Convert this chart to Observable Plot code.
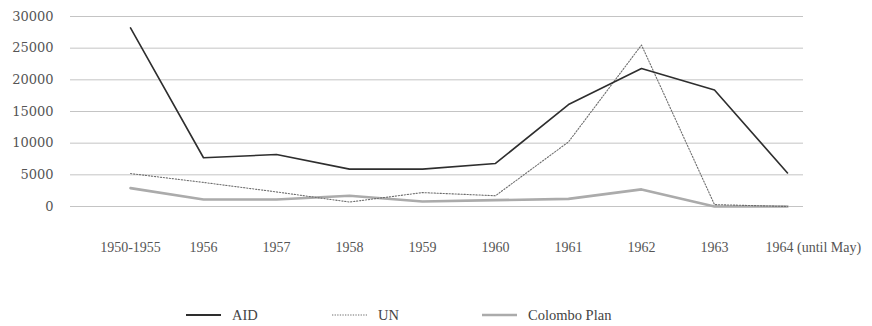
<!DOCTYPE html>
<html>
<head>
<meta charset="utf-8">
<script src="https://cdn.jsdelivr.net/npm/d3@7"></script>
<script src="https://cdn.jsdelivr.net/npm/@observablehq/plot@0.6"></script>
<style>
  html, body { margin: 0; padding: 0; background: #fff; }
  #chart svg { display: block; }
  #legend { position: relative; width: 872px; height: 51px; font-family: "Liberation Serif", serif; font-size: 14.5px; color: #444; }
  #legend .item { position: absolute; top: 31px; display: flex; align-items: center; height: 18px; }
  #legend svg { display: block; margin-right: 11px; }
</style>
</head>
<body>
<div id="chart"></div>
<div id="legend"></div>
<script>
const categories = ["1950-1955", "1956", "1957", "1958", "1959", "1960", "1961", "1962", "1963", "1964 (until May)"];
const aid = [28200, 7700, 8200, 5900, 5900, 6800, 16100, 21800, 18400, 5300];
const un = [5200, 3800, 2300, 700, 2200, 1700, 10200, 25500, 300, 0];
const colombo = [2900, 1100, 1100, 1700, 800, 1000, 1200, 2700, 0, 0];
const yTicks = [0, 5000, 10000, 15000, 20000, 25000, 30000];
const seriesNames = ["AID", "UN", "Colombo Plan"];

const toRows = (vals) => categories.map((c, i) => ({cat: c, value: vals[i]}));
const aidRows = toRows(aid), unRows = toRows(un), colRows = toRows(colombo);

const lastCat = categories[categories.length - 1];

const chart = Plot.plot({
  width: 872,
  height: 275,
  marginTop: 16,
  marginBottom: 69,
  marginLeft: 70,
  marginRight: 69,
  style: {fontFamily: "Liberation Serif, serif", background: "#fff"},
  x: {type: "point", domain: categories, range: [128, 788], padding: 0},
  y: {domain: [0, 30000], ticks: yTicks},
  marks: [
    Plot.ruleY(yTicks, {stroke: "#c4c4c4", strokeWidth: 1}),
    Plot.axisY({ticks: yTicks, tickSize: 0, tickPadding: 17, tickFormat: d => String(d), fontFamily: "DejaVu Serif, serif", fontSize: 13, fill: "#555", label: null}),
    Plot.axisX({ticks: categories.slice(0, -1), tickSize: 0, tickPadding: 36, fontSize: 14, fill: "#555", label: null}),
    Plot.axisX({ticks: [lastCat], tickSize: 0, tickPadding: 36, fontSize: 14, fill: "#555", textAnchor: "start", dx: -22, label: null}),
    Plot.line(colRows, {x: "cat", y: "value", stroke: "#ababab", strokeWidth: 2.6}),
    Plot.line(unRows, {x: "cat", y: "value", stroke: "#6e6e6e", strokeWidth: 1.1, strokeDasharray: "1.3,1.7"}),
    Plot.line(aidRows, {x: "cat", y: "value", stroke: "#2e2e2e", strokeWidth: 1.6})
  ]
});
document.getElementById("chart").appendChild(chart);

// legend
const legendStyles = [
  {stroke: "#2e2e2e", width: 1.8, dash: null, left: 186},
  {stroke: "#6e6e6e", width: 1.1, dash: "1.3,1.3", left: 332},
  {stroke: "#ababab", width: 2.6, dash: null, left: 482}
];
const legend = document.getElementById("legend");
seriesNames.forEach((name, i) => {
  const s = legendStyles[i];
  const item = document.createElement("div");
  item.className = "item";
  item.style.left = s.left + "px";
  item.innerHTML = `<svg width="35" height="10"><line x1="0" x2="35" y1="5" y2="5" stroke="${s.stroke}" stroke-width="${s.width}" ${s.dash ? `stroke-dasharray="${s.dash}"` : ""}/></svg><span>${name}</span>`;
  legend.appendChild(item);
});
</script>
</body>
</html>
